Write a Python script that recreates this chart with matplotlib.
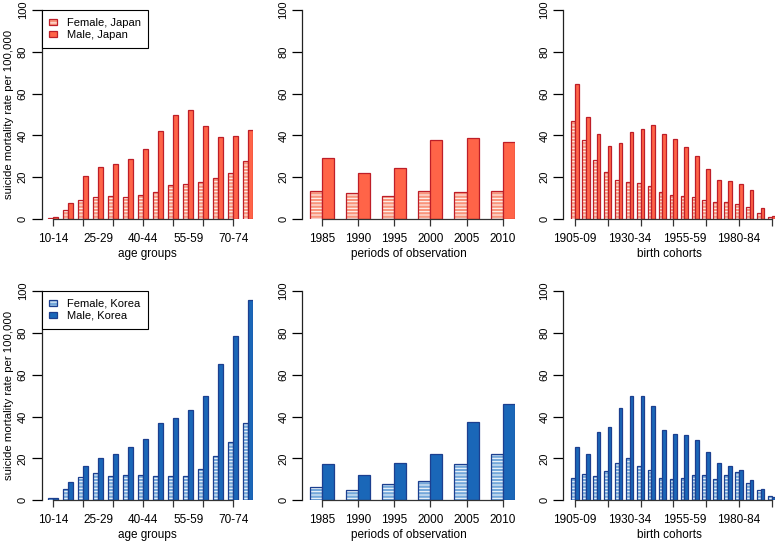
import numpy as np
import matplotlib.pyplot as plt
from matplotlib.patches import Patch

plt.rcParams['font.family'] = ['Liberation Sans', 'DejaVu Sans']
plt.rcParams['font.size'] = 8.5
plt.rcParams['hatch.linewidth'] = 0.7

age_groups = ['10-14', '15-19', '20-24', '25-29', '30-34', '35-39', '40-44',
              '45-49', '50-54', '55-59', '60-64', '65-69', '70-74', '75+']
periods = ['1985', '1990', '1995', '2000', '2005', '2010']
cohorts = ['1905-09', '1910-14', '1915-19', '1920-24', '1925-29', '1930-34',
           '1935-39', '1940-44', '1945-49', '1950-54', '1955-59', '1960-64',
           '1965-69', '1970-74', '1975-79', '1980-84', '1985-89', '1990-94',
           '1995-99']

# Japan
jp_female_age = [0.3, 4.3, 9.1, 10.4, 11.0, 10.7, 11.6, 13.1, 16.1, 16.7, 17.7, 19.6, 22.2, 27.8]
jp_male_age = [1.0, 7.5, 20.6, 24.7, 26.2, 28.5, 33.7, 42.3, 49.6, 52.3, 44.7, 39.2, 39.7, 42.7]
jp_female_period = [13.6, 12.6, 11.0, 13.6, 13.1, 13.6]
jp_male_period = [29.2, 22.0, 24.6, 37.6, 38.9, 36.7]
jp_female_cohort = [46.7, 37.8, 28.2, 22.6, 18.7, 17.5, 17.1, 16.0, 13.1, 11.5,
                    11.0, 10.5, 9.1, 8.0, 8.0, 7.0, 5.9, 3.0, 1.0]
jp_male_cohort = [64.4, 48.8, 40.7, 35.1, 36.2, 41.6, 43.2, 45.1, 40.5, 38.1,
                  34.6, 30.1, 24.1, 18.5, 18.0, 16.6, 13.9, 5.4, 1.4]

# Korea
kr_female_age = [1.1, 5.6, 11.3, 12.9, 11.8, 12.3, 12.3, 11.8, 11.8, 11.8, 14.8, 21.0, 27.9, 36.9]
kr_male_age = [1.1, 8.8, 16.2, 20.4, 22.3, 25.5, 29.5, 36.9, 39.5, 43.0, 50.0, 65.0, 78.5, 95.7]
kr_female_period = [6.2, 5.1, 7.6, 9.1, 17.4, 22.3]
kr_male_period = [17.4, 12.3, 17.8, 22.3, 37.4, 45.9]
kr_female_cohort = [10.8, 12.6, 11.8, 14.0, 18.0, 20.4, 16.4, 14.5, 10.8, 10.4,
                    10.8, 12.1, 12.1, 10.4, 11.9, 13.4, 8.4, 4.8, 2.2]
kr_male_cohort = [25.5, 22.0, 32.5, 35.0, 44.1, 49.7, 49.7, 45.1, 33.6, 31.7,
                  31.1, 29.0, 23.1, 18.0, 16.4, 14.5, 9.9, 5.3, 1.8]

japan_cols = {'light': '#F9957C', 'fill': '#FF6448', 'edge': '#BE1E28'}
korea_cols = {'light': '#74A8DA', 'fill': '#1A67B8', 'edge': '#1C3F8F'}

W, H = 778, 544
fig = plt.figure(figsize=(W / 100, H / 100), dpi=100)

# column layout: y-axis pixel, left xlim, pixels per bar unit, tick step, label step
columns = [(41.7, -0.32, 5.0, 2, 3, 'age groups'),
           (302.3, 0.36, 12.04, 1, 1, 'periods of observation'),
           (563.3, -1.2, 3.643, 3, 5, 'birth cohorts')]
rows = [(10, 219), (291, 500.3)]


def draw_panel(ax, labels, female, male, cols, lo, tick_step, label_step, xlabel):
    n = len(labels)
    x = np.arange(n) * 3
    ax.bar(x + 1, female, width=1, align='edge', color=cols['light'], linewidth=0)
    ax.bar(x + 1, female, width=1, align='edge', facecolor='none',
           edgecolor='white', hatch='-----', linewidth=0)
    ax.bar(x + 1, female, width=1, align='edge', facecolor='none',
           edgecolor=cols['edge'], linewidth=0.9)
    ax.bar(x + 2, male, width=1, align='edge', color=cols['fill'],
           edgecolor=cols['edge'], linewidth=0.9)

    centers = x + 2
    ax.set_xlim(lo, 3 * n)
    ax.set_ylim(0, 100)
    ax.xaxis.remove_overlapping_locs = False
    ax.set_xticks(centers[::label_step], labels[::label_step])
    ax.set_xticks(centers[::tick_step], minor=True)
    ax.tick_params(axis='x', which='major', length=0, pad=10)
    ax.tick_params(axis='x', which='minor', length=5, width=0.9, color='#333333')
    ax.set_yticks(np.arange(0, 101, 20))
    ax.tick_params(axis='y', length=7, width=0.9, pad=3, labelrotation=90,
                   labelsize=8)
    for t in ax.get_yticklabels():
        t.set_va('center')
    ax.set_xlabel(xlabel, labelpad=2)

    for s in ['top', 'right']:
        ax.spines[s].set_visible(False)
    ax.spines['left'].set_bounds(0, 100)
    ax.spines['left'].set_color('#222222')
    ax.spines['bottom'].set_bounds(centers[0], centers[::tick_step][-1])
    ax.spines['bottom'].set_color('#333333')
    ax.spines['left'].set_linewidth(0.9)
    ax.spines['bottom'].set_linewidth(0.9)


panels = [
    [(age_groups, jp_female_age, jp_male_age),
     (periods, jp_female_period, jp_male_period),
     (cohorts, jp_female_cohort, jp_male_cohort)],
    [(age_groups, kr_female_age, kr_male_age),
     (periods, kr_female_period, kr_male_period),
     (cohorts, kr_female_cohort, kr_male_cohort)],
]
row_cols = [japan_cols, korea_cols]
countries = ['Japan', 'Korea']

for r, (top_px, bot_px) in enumerate(rows):
    for c, (ax_px, lo, ppu, tstep, lstep, xlabel) in enumerate(columns):
        labels, female, male = panels[r][c]
        width_px = (3 * len(labels) - lo) * ppu
        ax = fig.add_axes([ax_px / W, 1 - bot_px / H, width_px / W, (bot_px - top_px) / H])
        draw_panel(ax, labels, female, male, row_cols[r], lo, tstep, lstep, xlabel)
        if c == 0:
            ax.set_ylabel('suicide mortality rate per 100,000', labelpad=3, fontsize=8.2)
            cols = row_cols[r]
            f_fill = Patch(facecolor=cols['light'], linewidth=0)
            f_hatch = Patch(facecolor='none', edgecolor='white', hatch='----', linewidth=0)
            f_edge = Patch(facecolor='none', edgecolor=cols['edge'], linewidth=0.9)
            m_patch = Patch(facecolor=cols['fill'], edgecolor=cols['edge'], linewidth=0.9)
            leg = ax.legend([(f_fill, f_hatch, f_edge), m_patch],
                            ['Female, ' + countries[r], 'Male, ' + countries[r]],
                            loc='upper left', bbox_to_anchor=(0, 1), borderaxespad=0,
                            fancybox=False, framealpha=1, edgecolor='black',
                            handlelength=0.65, handleheight=0.5, handletextpad=0.9,
                            borderpad=0.7, labelspacing=0.2, fontsize=8)
            leg.get_frame().set_linewidth(0.8)

fig.savefig('out.png', dpi=100)
